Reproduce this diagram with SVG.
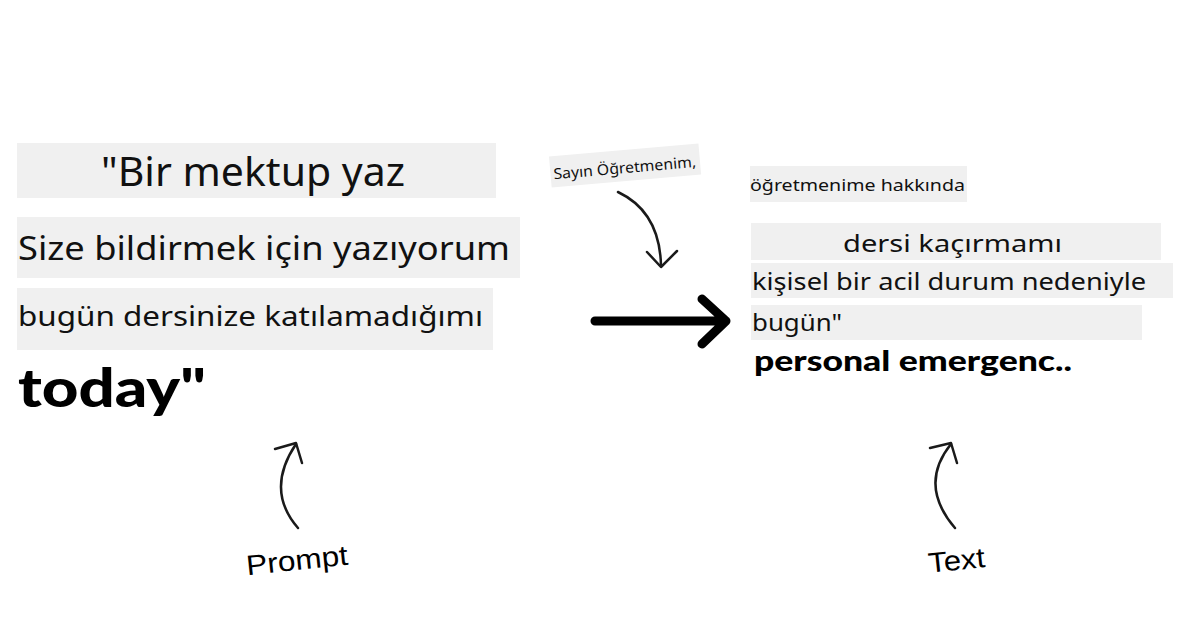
<svg xmlns="http://www.w3.org/2000/svg" width="1200" height="628" viewBox="0 0 1200 628">
<style>
.bx{fill:#f0f0f0}
.t{font-family:"Noto Sans","Open Sans",sans-serif;fill:#111}
.b{font-family:Lato,"Noto Sans",sans-serif;font-weight:900;fill:#000}
.hand{font-family:"Liberation Sans",sans-serif;fill:#000}
.ln{fill:none;stroke:#1a1a1a;stroke-width:2.5;stroke-linecap:round;stroke-linejoin:round}
.big{fill:none;stroke:#000;stroke-width:9;stroke-linecap:round;stroke-linejoin:round}
</style>
<rect width="1200" height="628" fill="#fff"/>
<g id="prompt-text">
<rect class="bx" x="17" y="143" width="479" height="55"/>
<text class="t" x="101" y="186" font-size="40" textLength="304" lengthAdjust="spacingAndGlyphs">"Bir mektup yaz</text>
<rect class="bx" x="17" y="217" width="503" height="61"/>
<text class="t" x="18" y="260" font-size="32" textLength="492" lengthAdjust="spacingAndGlyphs">Size bildirmek için yazıyorum</text>
<rect class="bx" x="17" y="288" width="476" height="62"/>
<text class="t" x="18" y="326" font-size="27" textLength="465" lengthAdjust="spacingAndGlyphs">bugün dersinize katılamadığımı</text>
<text class="b" x="18" y="407" font-size="53" textLength="188" lengthAdjust="spacingAndGlyphs">today"</text>
</g>
<g id="seed">
<g transform="rotate(-5 625 165)">
<rect class="bx" x="550" y="150" width="150" height="31"/>
<text class="t" x="553" y="173" font-size="15" textLength="143" lengthAdjust="spacingAndGlyphs">Sayın Öğretmenim,</text>
</g>
</g>
<g id="generated-text">
<rect class="bx" x="750" y="166" width="217" height="36"/>
<text class="t" x="750" y="191" font-size="16" textLength="215" lengthAdjust="spacingAndGlyphs">öğretmenime hakkında</text>
<rect class="bx" x="751" y="223" width="410" height="37"/>
<text class="t" x="843" y="252" font-size="24" textLength="219" lengthAdjust="spacingAndGlyphs">dersi kaçırmamı</text>
<rect class="bx" x="751" y="263" width="422" height="35"/>
<text class="t" x="752" y="290" font-size="24" textLength="394" lengthAdjust="spacingAndGlyphs">kişisel bir acil durum nedeniyle</text>
<rect class="bx" x="751" y="305" width="391" height="35"/>
<text class="t" x="752" y="331" font-size="24" textLength="90" lengthAdjust="spacingAndGlyphs">bugün"</text>
<text class="b" x="754" y="371" font-size="29" textLength="318" lengthAdjust="spacingAndGlyphs">personal emergenc..</text>
</g>
<g id="label-prompt">
<text class="hand" x="246" y="570" font-size="28" transform="rotate(-6 296 560)" textLength="102" lengthAdjust="spacingAndGlyphs">Prompt</text>
</g>
<g id="label-text">
<text class="hand" x="928" y="570" font-size="28" transform="rotate(-6 956 560)" textLength="57" lengthAdjust="spacingAndGlyphs">Text</text>
</g>
<g id="connectors">
<path class="ln" d="M618 192 Q660 212 661 266"/>
<path class="ln" d="M647 252 L661 267 L677 251"/>
<path class="big" d="M595 321 L726 321 M702 299 L726 321 L702 344"/>
<path class="ln" d="M298 528 Q265 490 296 444"/>
<path class="ln" d="M275 449 L296 443 L302 463"/>
<path class="ln" d="M955 528 Q918 485 951 444"/>
<path class="ln" d="M930 448 L951 443 L957 463"/>
</g>
</svg>
